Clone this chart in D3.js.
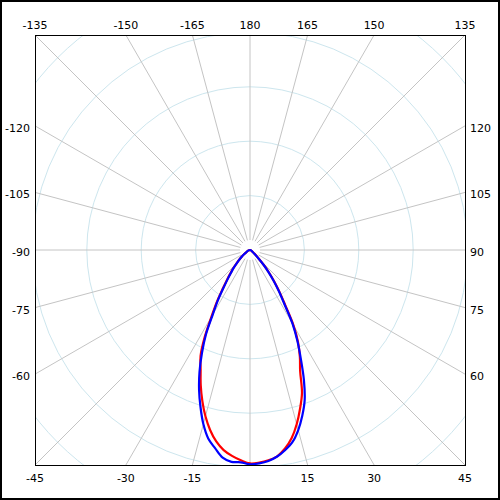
<!DOCTYPE html>
<html>
<head>
<meta charset="utf-8">
<script src="https://d3js.org/d3.v7.min.js"></script>
<style>
  body { margin: 0; background: #fff; }
  text { font-family: "DejaVu Sans", sans-serif; font-size: 11px; fill: #000; }
</style>
</head>
<body>
<svg id="chart" width="500" height="500"></svg>
<script>
// angles in degrees, 0 = straight down, positive to the right
var angles = [-180, -150, -120, -90, -80, -70, -60, -55, -50,
  -45, -42.5, -40, -37.5, -35, -32.5, -30, -27.5, -25, -22.5, -20, -17.5, -15, -12.5, -10, -7.5, -5, -2.5,
  0, 2.5, 5, 7.5, 10, 12.5, 15, 17.5, 20, 22.5, 25, 27.5, 30, 32.5, 35, 37.5, 40, 42.5, 45,
  50, 55, 60, 70, 80, 90, 120, 150, 180];

var redSeries = [0, 0, 0, 0, 1.8, 3.7, 7.4, 12.9, 22.1,
  35.8, 46.0, 56.1, 69.9, 88.2, 114.0, 141.5, 180.1, 215.1, 237.1, 264.7, 291.2, 316.5, 338.8, 357.4, 371.0, 379.8, 386.8,
  392.3, 391.2, 388.1, 382.5, 370.6, 354.0, 331.6, 305.9, 279.4, 240.8, 216.9, 191.2, 159.9, 121.3, 95.6, 73.5, 55.1, 38.6, 23.9,
  11.0, 5.5, 3.7, 1.8, 0.9, 0, 0, 0, 0];

var blueSeries = [0, 0, 0, 0, 1.8, 3.7, 7.4, 12.9, 22.1,
  34.6, 44.1, 53.9, 67.5, 84.9, 110.3, 136.6, 175.7, 209.0, 242.5, 273.7, 302.6, 331.3, 354.8, 369.9, 385.1, 391.0, 390.6,
  393.9, 392.5, 389.2, 382.9, 373.3, 361.4, 342.6, 319.5, 293.8, 259.0, 221.3, 188.8, 156.3, 117.6, 92.6, 71.7, 52.9, 36.8, 22.1,
  9.2, 5.5, 3.7, 1.8, 0.9, 0, 0, 0, 0];

var ringValues = [100, 200, 300, 400, 500, 600];
var spokeAngles = d3.range(-165, 181, 15);

var size = 430, cx = 250, cy = 250, half = size / 2;

var svg = d3.select("#chart");

svg.append("rect")
  .attr("x", 1).attr("y", 1).attr("width", 498).attr("height", 498)
  .attr("fill", "#fff").attr("stroke", "#000").attr("stroke-width", 2);

svg.append("clipPath").attr("id", "plotClip")
  .append("rect").attr("x", cx - half).attr("y", cy - half).attr("width", size).attr("height", size);

var r = d3.scaleLinear().domain([0, 100]).range([0, 54.4]);

var g = svg.append("g").attr("clip-path", "url(#plotClip)")
  .append("g").attr("transform", "translate(" + cx + "," + cy + ")");

function rad(d) { return Math.PI - d * Math.PI / 180; }

g.selectAll("circle.ring").data(ringValues).enter().append("circle")
  .attr("class", "ring")
  .attr("r", function(d) { return r(d); })
  .attr("fill", "none")
  .attr("stroke", "#cde6ee")
  .attr("stroke-width", 1);

g.selectAll("line.spoke").data(spokeAngles).enter().append("line")
  .attr("class", "spoke")
  .attr("x1", function(d) { return 10 * Math.sin(rad(d)); })
  .attr("y1", function(d) { return -10 * Math.cos(rad(d)); })
  .attr("x2", function(d) { return 400 * Math.sin(rad(d)); })
  .attr("y2", function(d) { return -400 * Math.cos(rad(d)); })
  .attr("stroke", "#c4c4c4")
  .attr("stroke-width", 1);

var line = d3.lineRadial()
  .angle(function(d) { return rad(d[0]); })
  .radius(function(d) { return r(d[1]); })
  .curve(d3.curveCatmullRom.alpha(0.5));

g.append("path")
  .datum(angles.map(function(a, i) { return [a, redSeries[i]]; }))
  .attr("d", line)
  .attr("fill", "none")
  .attr("stroke", "#ff0000")
  .attr("stroke-width", 2.2);

g.append("path")
  .datum(angles.map(function(a, i) { return [a, blueSeries[i]]; }))
  .attr("d", line)
  .attr("fill", "none")
  .attr("stroke", "#0000ff")
  .attr("stroke-width", 2.2);

svg.append("rect")
  .attr("x", cx - half + 0.5).attr("y", cy - half + 0.5).attr("width", size).attr("height", size)
  .attr("fill", "none").attr("stroke", "#000").attr("stroke-width", 1);

// labels where each spoke meets the frame
spokeAngles.filter(function(d) { return d != 0; }).forEach(function(d) {
  var s = Math.sin(d * Math.PI / 180), c = Math.cos(d * Math.PI / 180);
  var t = half / Math.max(Math.abs(s), Math.abs(c));
  var x = cx + t * s, y = cy + t * c;
  var lab = svg.append("text").text(d);
  if (Math.abs(c) >= Math.abs(s) - 1e-6) {
    lab.attr("x", x).attr("text-anchor", "middle")
      .attr("y", c < 0 ? cy - half - 6 : cy + half + 17);
  } else if (s < 0) {
    lab.attr("x", cx - half - 5).attr("y", y + 6).attr("text-anchor", "end");
  } else {
    lab.attr("x", cx + half + 5).attr("y", y + 6).attr("text-anchor", "start");
  }
});
</script>
</body>
</html>
